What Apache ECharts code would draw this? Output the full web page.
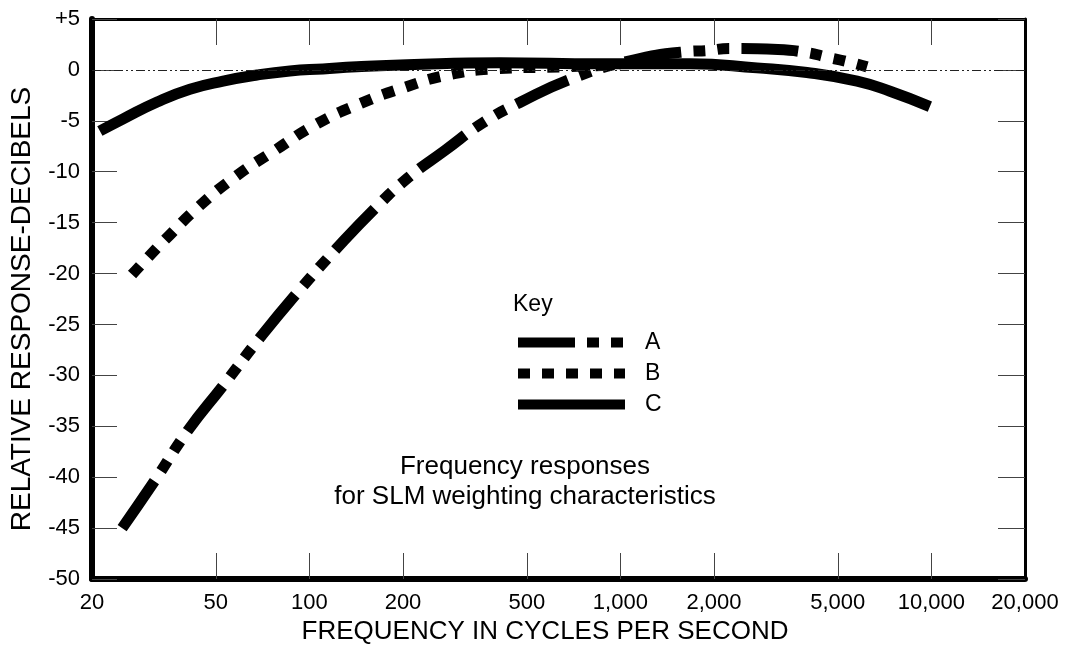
<!DOCTYPE html>
<html>
<head>
<meta charset="utf-8">
<script src="https://cdn.jsdelivr.net/npm/echarts@6/dist/echarts.min.js"></script>
<style>
  html, body { margin: 0; padding: 0; background: #fff; }
  #chart { width: 1068px; height: 645px; }
</style>
</head>
<body>
<div id="chart"></div>
<script>
// frequency ticks (Hz)
const freqTicks = [20, 50, 100, 200, 500, 1000, 2000, 5000, 10000, 20000]

// A weighting
const freqA = [25, 31.9, 40.7, 52.8, 69.4, 91.3, 122.7, 165, 207.5, 273, 361, 475, 705, 1074, 1637, 1897, 2250, 3211, 3980, 4550, 5395, 6210]
const respA = [-45.0, -40.3, -35.4, -31.0, -26.3, -21.9, -17.5, -13.4, -10.6, -7.9, -5.2, -3.2, -0.8, 0.9, 1.8, 1.9, 2.1, 2.0, 1.7, 1.3, 0.8, 0.3]

// B weighting
const freqB = [26.9, 30.3, 34.3, 43.8, 57.7, 77.5, 104.3, 143.3, 198.5, 279, 395, 640, 998]
const respB = [-20.1, -18.4, -16.7, -13.5, -10.5, -7.9, -5.4, -3.4, -1.8, -0.5, 0.1, 0.3, 0.5]

// C weighting
const freqC = [21.2, 25.2, 32.4, 41.3, 52.8, 67.9, 86.6, 110.6, 142, 206, 410, 859, 1674, 2749, 3980, 5770, 7363, 9890]
const respC = [-6.0, -4.8, -3.15, -1.9, -1.1, -0.5, -0.1, 0.1, 0.3, 0.5, 0.7, 0.6, 0.6, 0.2, -0.25, -1.1, -2.1, -3.6]

const FONT = "'Liberation Sans', Arial, sans-serif"
const pairs = (xs, ys) => xs.map((x, i) => [x, ys[i]])
const lg = v => Math.log10(v)
const tickPos = freqTicks.map(lg)
const innerTickPos = tickPos.slice(1, -1)

const chart = echarts.init(document.getElementById('chart'))

const tickStyle = { show: true, inside: true, lineStyle: { color: '#444', width: 1 } }

const option = {
    animation: false,
    backgroundColor: '#fff',
    grid: { left: 92, right: 43, top: 19, bottom: 66, outerBoundsMode: 'none' },
    legend: {
        orient: 'vertical',
        left: 513,
        top: 331,
        padding: 0,
        itemWidth: 107,
        itemHeight: 14,
        itemGap: 8,
        data: ['A', 'B', 'C'],
        selectedMode: false,
        itemStyle: { color: 'rgba(0,0,0,0)', borderWidth: 0 },
        lineStyle: { width: 10 },
        textStyle: { fontFamily: FONT, fontSize: 23, color: '#000', lineHeight: 22, padding: [0, 0, 0, 15] }
    },
    graphic: [
        { type: 'text', x: 513, y: 305, style: { text: 'Key', font: '23px ' + FONT, fill: '#000', textVerticalAlign: 'middle' } },
        {
            type: 'text', x: 525, y: 452,
            style: {
                text: 'Frequency responses\nfor SLM weighting characteristics',
                font: '26px ' + FONT, fill: '#000', textAlign: 'center', textVerticalAlign: 'top',
                lineHeight: 30
            }
        },
        { type: 'text', x: 545, y: 632, style: { text: 'FREQUENCY IN CYCLES PER SECOND', font: '26px ' + FONT, fill: '#000', textAlign: 'center', textVerticalAlign: 'middle' } },
        { type: 'text', x: 22, y: 309, rotation: Math.PI / 2, style: { text: 'RELATIVE RESPONSE-DECIBELS', font: '28px ' + FONT, fill: '#000', textAlign: 'center', textVerticalAlign: 'middle' } }
    ],
    xAxis: [
        { type: 'log', min: 20, max: 20000, show: false },
        {
            type: 'value', position: 'bottom', min: lg(20), max: lg(20000),
            axisLine: { show: true, onZero: false, lineStyle: { color: '#000', width: 6 } },
            axisTick: { ...tickStyle, length: 26, customValues: innerTickPos },
            axisLabel: {
                customValues: tickPos, margin: 13, color: '#000', fontFamily: FONT, fontSize: 22,
                formatter: v => Math.round(Math.pow(10, v)).toLocaleString('en-US')
            },
            splitLine: { show: false }
        },
        {
            type: 'value', position: 'top', min: lg(20), max: lg(20000),
            axisLine: { show: true, onZero: false, lineStyle: { color: '#000', width: 3 } },
            axisTick: { ...tickStyle, length: 26, customValues: innerTickPos },
            axisLabel: { show: false },
            splitLine: { show: false }
        }
    ],
    yAxis: [
        {
            type: 'value', position: 'left', min: -50, max: 5, interval: 5,
            axisLine: { show: true, onZero: false, lineStyle: { color: '#000', width: 6 } },
            axisTick: { ...tickStyle, length: 25 },
            axisLabel: {
                margin: 12, color: '#000', fontFamily: FONT, fontSize: 22,
                formatter: v => (v > 0 ? '+' + v : String(v))
            },
            splitLine: { show: false }
        },
        {
            type: 'value', position: 'right', min: -50, max: 5, interval: 5,
            axisLine: { show: true, onZero: false, lineStyle: { color: '#000', width: 3 } },
            axisTick: { ...tickStyle, length: 27 },
            axisLabel: { show: false },
            splitLine: { show: false }
        }
    ],
    series: [
        {
            name: 'A', type: 'line', xAxisIndex: 0, yAxisIndex: 0,
            data: pairs(freqA, respA), smooth: true, symbol: 'none',
            lineStyle: { color: '#000', width: 11, type: [57, 12, 12, 12, 12, 12], cap: 'butt' },
            markLine: {
                silent: true, symbol: 'none', label: { show: false },
                lineStyle: { color: '#222', width: 1, type: [9, 3, 2, 3, 2, 3] },
                data: [{ yAxis: 0 }]
            }
        },
        {
            name: 'B', type: 'line', xAxisIndex: 0, yAxisIndex: 0,
            data: pairs(freqB, respB), smooth: true, symbol: 'none',
            lineStyle: { color: '#000', width: 11, type: [12, 12], cap: 'butt' }
        },
        {
            name: 'C', type: 'line', xAxisIndex: 0, yAxisIndex: 0,
            data: pairs(freqC, respC), smooth: true, symbol: 'none',
            lineStyle: { color: '#000', width: 11, cap: 'butt' }
        }
    ]
}

chart.setOption(option)
</script>
</body>
</html>
